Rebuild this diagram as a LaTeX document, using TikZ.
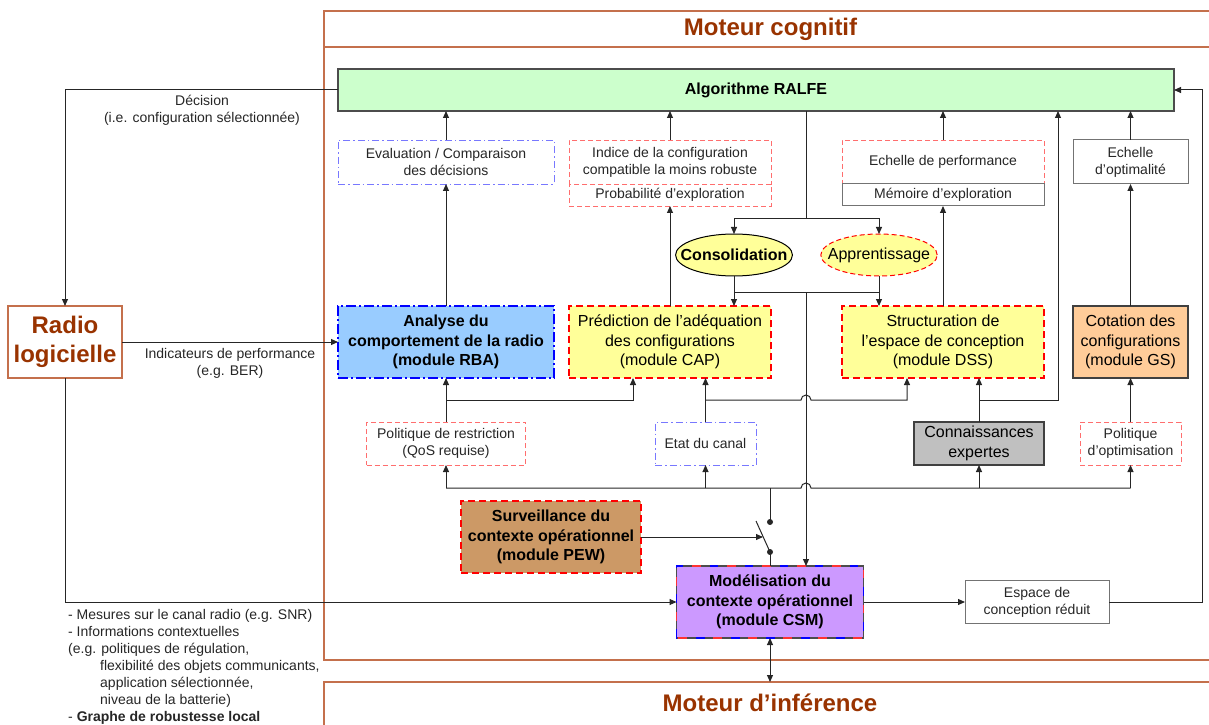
\documentclass[tikz,border=0pt]{standalone}
\usepackage{fontspec}
\setmainfont{Liberation Sans}
\usepackage{xcolor}
\usepackage{tikz}
\usetikzlibrary{arrows.meta,shapes,positioning,calc}

\definecolor{brick}{RGB}{153,51,0}
\definecolor{panelline}{RGB}{196,112,76}
\definecolor{ralfegreen}{RGB}{204,255,204}
\definecolor{rbablue}{RGB}{153,204,255}
\definecolor{capyellow}{RGB}{255,255,153}
\definecolor{gsorange}{RGB}{255,204,153}
\definecolor{pewbrown}{RGB}{204,153,102}
\definecolor{csmpurple}{RGB}{204,153,255}
\definecolor{expertgray}{RGB}{192,192,192}
\definecolor{lightred}{RGB}{255,110,110}
\definecolor{lightblue}{RGB}{120,120,255}

\newcommand{\fsmall}{\fontsize{14}{17}\selectfont}
\newcommand{\fmod}{\fontsize{16}{19.5}\selectfont}
\newcommand{\fbig}{\fontsize{24}{29}\selectfont}

\begin{document}
\begin{tikzpicture}[
  x=1pt, y=1pt,
  >={Triangle[length=7pt,width=6pt]},
  panel/.style={draw=panelline, line width=1.3pt},
  paneltitle/.style={font=\fbig\bfseries, text=brick},
  box/.style={rectangle, inner sep=0pt, outer sep=0pt, align=center, font=\fsmall, fill=white, text=black!85},
  redbox/.style={box, draw=lightred, line width=0.9pt, dash pattern=on 5pt off 3pt},
  bluebox/.style={box, draw=lightblue, line width=0.9pt, dash pattern=on 7pt off 3pt on 1.5pt off 3pt},
  graybox/.style={box, draw=black!55, line width=1pt},
  module/.style={rectangle, inner sep=0pt, outer sep=0pt, align=center, font=\fmod, minimum height=72pt, line width=1.3pt},
  reddash/.style={draw=red, dash pattern=on 7pt off 4pt},
  bluedash/.style={draw=blue, dash pattern=on 10pt off 3pt on 2pt off 3pt},
  oval/.style={ellipse, line width=1pt, fill=capyellow, minimum height=42pt, inner ysep=0pt, outer sep=0pt, font=\fmod},
  arrow/.style={->, line width=1pt, black!85},
  wire/.style={line width=1pt, black!85},
  lbl/.style={font=\fsmall, align=center, text=black!85}
]
\useasboundingbox (0,0) rectangle (1209,724);
\clip (0,0) rectangle (1209,724);

% panels
\draw[panel] (324,64) rectangle (1240,713);
\draw[panel] (324,677) -- (1240,677);
\node[paneltitle] (cogtitle) at (770.5,695) {Moteur cognitif};
\draw[panel] (324,-20) rectangle (1240,42);
\node[paneltitle] (inftitle) at (770,21) {Moteur d’inférence};

% main nodes
\node[module, draw=black!70, fill=ralfegreen, minimum width=836pt, minimum height=42pt, font=\fmod\bfseries] (ralfe) at (756,634) {Algorithme RALFE};
\node[module, draw=panelline, fill=white, minimum width=114pt, font=\fbig\bfseries, text=brick] (radio) at (65,382) {Radio\\logicielle};

\node[bluebox, minimum width=216pt, minimum height=44pt] (eval) at (446,562) {Evaluation / Comparaison\\des décisions};
\node[redbox, minimum width=202pt, minimum height=44pt] (indice) at (670,562) {Indice de la configuration\\compatible la moins robuste};
\node[redbox, minimum width=202pt, minimum height=22pt, below=0pt of indice] (proba) {Probabilité d’exploration};
\node[redbox, minimum width=202pt, minimum height=44pt] (echperf) at (943,562) {Echelle de performance};
\node[graybox, minimum width=202pt, minimum height=22pt, below=0pt of echperf] (memoire) {Mémoire d’exploration};
\node[graybox, minimum width=115pt, minimum height=44pt] (echopt) at (1130.5,562) {Echelle\\d’optimalité};

\node[oval, draw=black, inner xsep=-12pt, font=\fmod\bfseries] (consol) at (734,469) {Consolidation};
\node[oval, draw=red, dash pattern=on 5pt off 3pt, inner xsep=-10pt] (appr) at (879,469) {Apprentissage};

\node[module, bluedash, fill=rbablue, minimum width=216pt, font=\fmod\bfseries] (rba) at (446,382) {Analyse du\\comportement de la radio\\(module RBA)};
\node[module, reddash, fill=capyellow, minimum width=202pt] (cap) at (670,382) {Prédiction de l’adéquation\\des configurations\\(module CAP)};
\node[module, reddash, fill=capyellow, minimum width=202pt] (dss) at (943,382) {Structuration de\\l’espace de conception\\(module DSS)};
\node[module, draw=black!75, fill=gsorange, minimum width=115pt] (gs) at (1130.5,382) {Cotation des\\configurations\\(module GS)};

\node[redbox, minimum width=159pt, minimum height=43pt] (polres) at (446,280.5) {Politique de restriction\\(QoS requise)};
\node[bluebox, minimum width=101pt, minimum height=43pt] (etat) at (705.5,280.5) {Etat du canal};
\node[module, draw=black!75, fill=expertgray, minimum width=130pt, minimum height=43pt] (expert) at (979,280.5) {Connaissances\\expertes};
\node[redbox, minimum width=101pt, minimum height=43pt] (polopt) at (1130.5,280.5) {Politique\\d’optimisation};

\node[module, reddash, fill=pewbrown, minimum width=180pt, font=\fmod\bfseries] (pew) at (551,187) {Surveillance du\\contexte opérationnel\\(module PEW)};
\node[module, draw=blue, fill=csmpurple, minimum width=187pt, font=\fmod\bfseries] (csm) at (770,122) {Modélisation du\\contexte opérationnel\\(module CSM)};
\draw[black!70, line width=1.3pt, dash pattern=on 8.75pt off 8.75pt, dash phase=-8.75pt] (csm.south west) rectangle (csm.north east);
\draw[red!80, line width=1.3pt, dash pattern=on 8.75pt off 26.25pt, dash phase=-17.5pt] (csm.south west) rectangle (csm.north east);
\node[graybox, minimum width=144pt, minimum height=43pt] (espace) at (1037,122) {Espace de\\conception réduit};

% labels
\node[lbl] (declbl) at (202,613.5) {Décision\\(i.e. configuration sélectionnée)};
\node[lbl] (perflbl) at (230,361) {Indicateurs de performance\\(e.g. BER)};
\node[lbl, align=left, anchor=north west, inner sep=0pt] (ctxlbl) at (68,115) {- Mesures sur le canal radio (e.g. SNR)\\- Informations contextuelles\\(e.g. politiques de régulation,\\\hspace*{32pt}flexibilité des objets communicants,\\\hspace*{32pt}application sélectionnée,\\\hspace*{32pt}niveau de la batterie)\\- \textbf{Graphe de robustesse local}};

% radio links
\draw[arrow] (ralfe.west) -| (radio.north);
\draw[arrow] (radio.east) -- (rba.west);
\draw[arrow] (radio.south) |- (csm.west);

% up to RALFE
\draw[arrow] (eval.north) -- (eval.north |- ralfe.south);
\draw[arrow] (rba.north) -- (eval.south);
\draw[arrow] (indice.north) -- (indice.north |- ralfe.south);
\draw[arrow] (cap.north) -- (proba.south);
\draw[arrow] (echperf.north) -- (echperf.north |- ralfe.south);
\draw[arrow] (dss.north) -- (memoire.south);
\draw[arrow] (echopt.north) -- (echopt.north |- ralfe.south);
\draw[arrow] (gs.north) -- (echopt.south);
\draw[arrow] (polopt.north) -- (gs.south);

% RALFE down to consolidation / apprentissage
\coordinate (split) at (806,505);
\coordinate (join) at (806,432);
\draw[wire] (ralfe.south -| split) -- (split);
\draw[arrow] (split) -| (consol.north);
\draw[arrow] (split) -| (appr.north);
\draw[arrow] (consol.south) -- (consol.south |- cap.north);
\draw[arrow] (appr.south) -- (appr.south |- dss.north);
\draw[wire] (consol.south |- join) -- (appr.south |- join);
\draw[arrow] (join) -- (join |- csm.north);

% upper bus
\coordinate (bus1) at (0,324);
\coordinate (bus2) at (0,236);
\coordinate (kup) at (1058,0);
\draw[arrow] (polres.north) -- (rba.south);
\draw[arrow] (polres.north |- bus1) -| ([xshift=-37pt]cap.south);
\draw[arrow] (etat.north) -- (etat.north |- cap.south);
\draw[arrow] (etat.north |- bus1) -- ([xshift=-5pt]join |- bus1) arc[start angle=180, end angle=0, radius=5pt] -| ([xshift=-36pt]dss.south);
\draw[arrow] (expert.north) -- (expert.north |- dss.south);
\draw[arrow] (expert.north |- bus1) -| (kup |- ralfe.south);

% lower bus
\draw[wire] (polres.south |- bus2) -- ([xshift=-5pt]join |- bus2) arc[start angle=180, end angle=0, radius=5pt] -- (polopt.south |- bus2);
\draw[arrow] (polres.south |- bus2) -- (polres.south);
\draw[arrow] (etat.south |- bus2) -- (etat.south);
\draw[arrow] (expert.south |- bus2) -- (expert.south);
\draw[arrow] (polopt.south |- bus2) -- (polopt.south);

% switch
\coordinate (swtop) at (770,202);
\coordinate (swbot) at (770,172);
\coordinate (lever) at (756,203);
\coordinate (leverhit) at (763,187);
\draw[wire] (swtop |- bus2) -- (swtop);
\draw[wire] (swbot) -- (swbot |- csm.north);
\draw[wire] (swbot) -- (lever);
\fill[black!85] (swtop) circle (3pt);
\fill[black!85] (swbot) circle (3pt);
\draw[arrow] (pew.east) -- (leverhit);

% CSM outputs
\coordinate (fb) at (1202,0);
\coordinate (inftop) at (0,42);
\draw[arrow] (csm.east) -- (espace.west);
\draw[arrow] (espace.east) -- (espace.east -| fb) |- (ralfe.east);
\draw[<->, line width=1pt, black!85] (csm.south) -- (csm.south |- inftop);

\end{tikzpicture}
\end{document}
